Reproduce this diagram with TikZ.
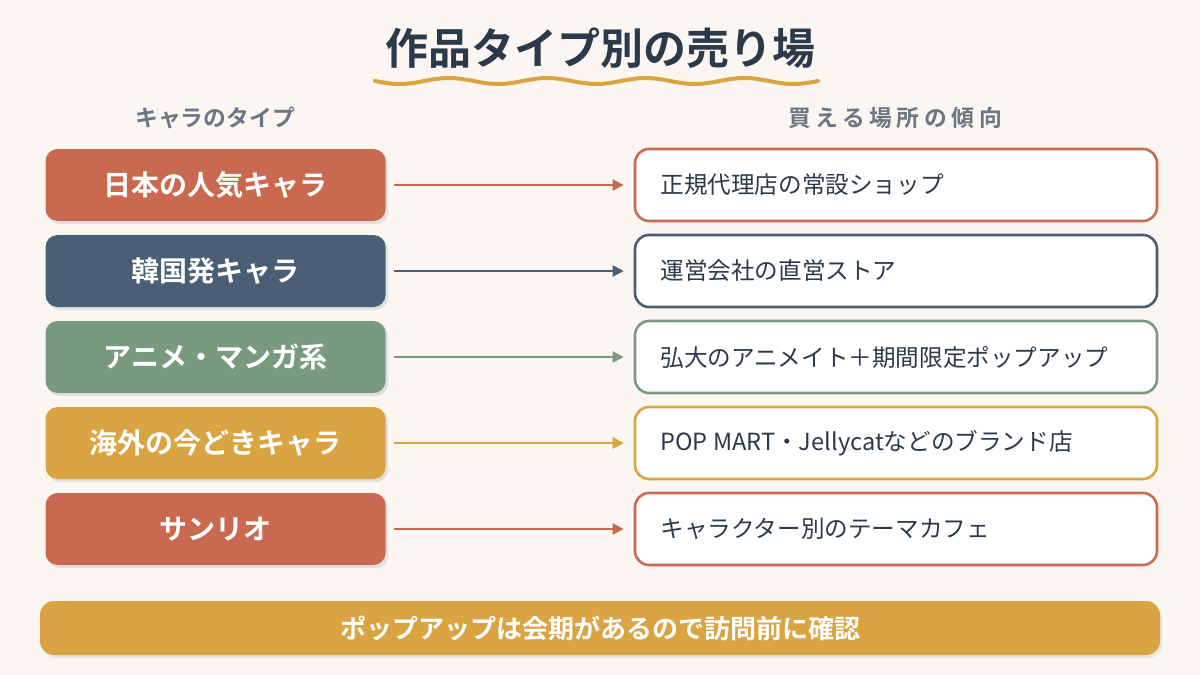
\documentclass[tikz,border=0pt]{standalone}
\usepackage{fontspec}
\setmainfont{Noto Sans CJK JP}[BoldFont={Noto Sans CJK JP Bold}]
\usetikzlibrary{arrows.meta}
\definecolor{bg}{HTML}{FBF6F1}
\definecolor{navy}{HTML}{2B3A4A}
\definecolor{grayt}{HTML}{6B7785}
\definecolor{terra}{HTML}{C96A50}
\definecolor{slate}{HTML}{4A5E75}
\definecolor{sage}{HTML}{7A9A80}
\definecolor{gold}{HTML}{D9A441}
\tikzset{
  catbox/.style={rounded corners=6pt, minimum width=170pt, minimum height=36pt, text=white, font=\fontsize{14}{16}\selectfont\bfseries, inner sep=0pt},
  placebox/.style={rounded corners=7pt, draw, line width=1.3pt, fill=white, minimum width=261pt, minimum height=36pt, inner sep=0pt},
  placetext/.style={text=navy, font=\fontsize{11.8}{14}\selectfont, anchor=west, inner sep=0pt},
  header/.style={text=grayt, font=\fontsize{11.4}{13}\selectfont\bfseries},
  conn/.style={line width=1.1pt, -{Triangle[length=5.5pt,width=5.5pt]}},
}
\begin{document}
\begin{tikzpicture}[x=0.5pt,y=-0.5pt]
\fill[bg] (0,0) rectangle (1200,675);
\useasboundingbox (0,0) rectangle (1200,675);
\node[text=navy, font=\fontsize{21.5}{24}\selectfont\bfseries] (title) at (600,48) {作品タイプ別の売り場};
\draw[gold, line width=2pt, line cap=round] plot[domain=375:818, samples=120] (\x,{81+3*sin((\x-375)/443*4.5*360)});
\node[header] (hl) at (215,118) {キャラのタイプ};
\node[header] (hr) at (895,118) {\addfontfeature{LetterSpace=20}買える場所の傾向};
\foreach \i/\c/\t/\p in {
  1/terra/日本の人気キャラ/正規代理店の常設ショップ,
  2/slate/韓国発キャラ/運営会社の直営ストア,
  3/sage/アニメ・マンガ系/弘大のアニメイト＋期間限定ポップアップ,
  4/gold/海外の今どきキャラ/POP MART・Jellycatなどのブランド店,
  5/terra/サンリオ/キャラクター別のテーマカフェ}{
  \pgfmathsetmacro{\yy}{185+86*(\i-1)}
  \fill[black!12, rounded corners=6pt] (48,\yy-34) rectangle (388,\yy+39);
  \node[catbox, fill=\c] (L\i) at (215.5,\yy) {\t};
  \node[placebox, draw=\c] (R\i) at (896,\yy) {};
  \node[placetext] (T\i) at (660,\yy) {\p};
  \draw[conn, \c] ([xshift=4pt]L\i.east) -- ([xshift=-5pt]R\i.west);
}
\fill[black!10, rounded corners=7pt] (42,605) rectangle (1162,658);
\node[rounded corners=7pt, fill=gold, minimum width=560pt, minimum height=27pt, inner sep=0pt, text=white, font=\fontsize{13}{15}\selectfont\bfseries] (ban) at (600,628) {ポップアップは会期があるので訪問前に確認};
\end{tikzpicture}
\end{document}
